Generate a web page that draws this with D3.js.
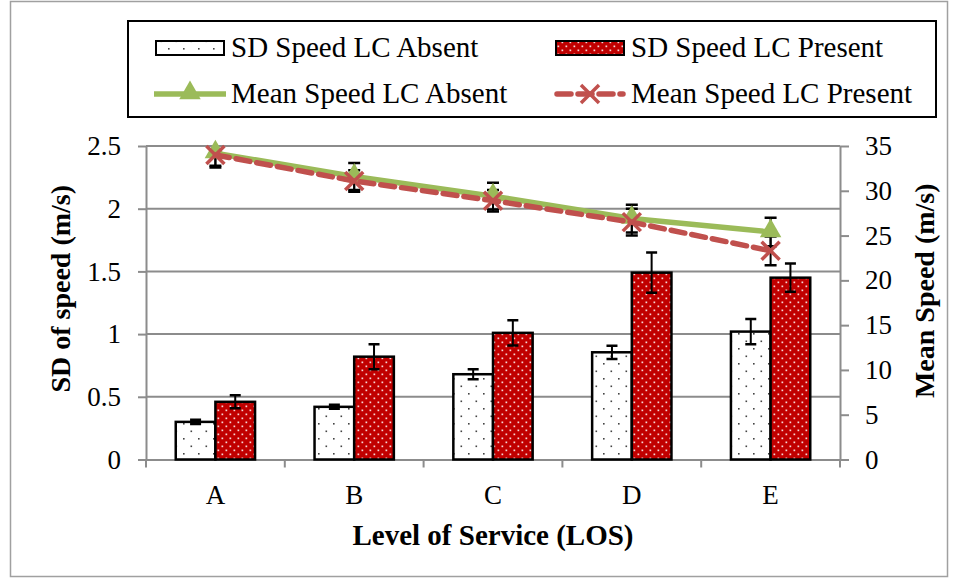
<!DOCTYPE html>
<html>
<head>
<meta charset="utf-8">
<script src="https://cdn.jsdelivr.net/npm/d3@7"></script>
<style>
  html, body { margin: 0; padding: 0; background: #fff; }
  svg { display: block; }
  text { font-family: "Liberation Serif", "Times New Roman", serif; fill: #000; }
</style>
</head>
<body>
<svg id="chart" width="958" height="579"></svg>
<script>
// Level of service categories
const categories = ["A", "B", "C", "D", "E"];

// Standard deviation of speed (m/s), left axis
const sdAbsent = [0.30, 0.42, 0.68, 0.855, 1.02];
const sdAbsentErr = [0.017, 0.016, 0.04, 0.053, 0.10];
const sdPresent = [0.46, 0.82, 1.01, 1.49, 1.45];
const sdPresentErr = [0.052, 0.10, 0.10, 0.16, 0.113];

// Mean speed (m/s), right axis
const meanAbsent = [34.2, 31.6, 29.4, 26.9, 25.4];
const meanAbsentErr = [1.4, 1.5, 1.5, 1.55, 1.6];
const meanPresent = [34.0, 31.1, 28.9, 26.5, 23.3];
const meanPresentErr = [1.4, 1.2, 1.2, 1.5, 1.6];

// Tick labels
const leftTicks = [0, 0.5, 1, 1.5, 2, 2.5];
const rightTicks = [0, 5, 10, 15, 20, 25, 30, 35];

const GREEN = "#9BBB59";
const RED = "#C0504D";
const BAR_RED = "#C00000";
const GRID = "#8C8C8C";

const svg = d3.select("#chart");
const defs = svg.append("defs");

// Sparse dot fill for the "LC Absent" bars
const pA = defs.append("pattern").attr("id", "dotsAbsent")
  .attr("patternUnits", "userSpaceOnUse").attr("width", 15).attr("height", 15);
pA.append("rect").attr("width", 15).attr("height", 15).attr("fill", "#fff");
pA.append("rect").attr("x", 3).attr("y", 3).attr("width", 1.6).attr("height", 1.6).attr("fill", "#444");
pA.append("rect").attr("x", 10.5).attr("y", 10.5).attr("width", 1.6).attr("height", 1.6).attr("fill", "#444");

// Dense white dots on red for the "LC Present" bars
const pP = defs.append("pattern").attr("id", "dotsPresent")
  .attr("patternUnits", "userSpaceOnUse").attr("width", 8).attr("height", 8);
pP.append("rect").attr("width", 8).attr("height", 8).attr("fill", BAR_RED);
pP.append("rect").attr("x", 1.5).attr("y", 1.5).attr("width", 1.7).attr("height", 1.7).attr("fill", "#f6d6d6");
pP.append("rect").attr("x", 5.5).attr("y", 5.5).attr("width", 1.7).attr("height", 1.7).attr("fill", "#f6d6d6");

// Outer chart frame
svg.append("rect").attr("x", 10.5).attr("y", 1.5).attr("width", 937).attr("height", 575)
  .attr("fill", "none").attr("stroke", "#a0a0a0").attr("stroke-width", 1.5);

const plot = { left: 146, right: 840, top: 146, bottom: 459.5 };

// Error bars are clipped to the plot area
defs.append("clipPath").attr("id", "plotClip").append("rect")
  .attr("x", plot.left - 20).attr("y", plot.top).attr("width", plot.right - plot.left + 40)
  .attr("height", plot.bottom - plot.top);

const x = d3.scaleBand().domain(categories).range([plot.left, plot.right]).padding(0);
const xs = d3.scaleBand().domain(["absent", "present"]).range([0, x.bandwidth()])
  .paddingInner(0).paddingOuter(0.75);
const yL = d3.scaleLinear().domain([0, 2.5]).range([plot.bottom, plot.top]);
const yR = d3.scaleLinear().domain([0, 35]).range([plot.bottom, plot.top]);

// Horizontal gridlines
svg.append("g").selectAll("line").data(leftTicks.slice(1)).join("line")
  .attr("x1", plot.left).attr("x2", plot.right)
  .attr("y1", d => yL(d)).attr("y2", d => yL(d))
  .attr("stroke", GRID).attr("stroke-width", 2);

// Axes
function styleAxis(g) {
  g.selectAll("path.domain").attr("stroke", GRID).attr("stroke-width", 2);
  g.selectAll(".tick line").attr("stroke", GRID).attr("stroke-width", 2);
  g.selectAll(".tick text").attr("font-family", "Liberation Serif").attr("font-size", 27).attr("fill", "#000");
}

const axL = svg.append("g").attr("transform", `translate(${plot.left},0)`)
  .call(d3.axisLeft(yL).tickValues(leftTicks).tickSize(8).tickSizeOuter(0).tickPadding(17)
    .tickFormat(d3.format("~g")));
styleAxis(axL);

const axR = svg.append("g").attr("transform", `translate(${plot.right},0)`)
  .call(d3.axisRight(yR).tickValues(rightTicks).tickSize(9).tickSizeOuter(0).tickPadding(16));
styleAxis(axR);

const axB = svg.append("g").attr("transform", `translate(0,${plot.bottom})`)
  .call(d3.axisBottom(x).tickSize(0).tickSizeOuter(0).tickPadding(25));
styleAxis(axB);
// Category boundary ticks
axB.selectAll("line.bound").data(categories.map(c => x(c)).concat([plot.right])).join("line")
  .attr("class", "bound")
  .attr("x1", d => d).attr("x2", d => d).attr("y1", 0).attr("y2", 8)
  .attr("stroke", GRID).attr("stroke-width", 2);

// Bars
const barGroups = [
  { key: "absent", vals: sdAbsent, err: sdAbsentErr, fill: "url(#dotsAbsent)" },
  { key: "present", vals: sdPresent, err: sdPresentErr, fill: "url(#dotsPresent)" }
];
barGroups.forEach(s => {
  svg.append("g").selectAll("rect").data(categories).join("rect")
    .attr("x", c => x(c) + xs(s.key))
    .attr("width", xs.bandwidth())
    .attr("y", (c, i) => yL(s.vals[i]))
    .attr("height", (c, i) => plot.bottom - yL(s.vals[i]))
    .attr("fill", s.fill).attr("stroke", "#000").attr("stroke-width", 2.5);
});

function errorBars(g, cx, cyLow, cyHigh, capW) {
  g.append("line").attr("x1", cx).attr("x2", cx).attr("y1", cyLow).attr("y2", cyHigh)
    .attr("stroke", "#000").attr("stroke-width", 2);
  [cyLow, cyHigh].forEach(yy => g.append("line")
    .attr("x1", cx - capW / 2).attr("x2", cx + capW / 2).attr("y1", yy).attr("y2", yy)
    .attr("stroke", "#000").attr("stroke-width", 2.5));
}

const errG = svg.append("g").attr("clip-path", "url(#plotClip)");
barGroups.forEach(s => {
  categories.forEach((c, i) => {
    const cx = x(c) + xs(s.key) + xs.bandwidth() / 2;
    errorBars(errG, cx, yL(s.vals[i] - s.err[i]), yL(s.vals[i] + s.err[i]), 11);
  });
});

// Mean speed lines
const cx = c => x(c) + x.bandwidth() / 2;
const line = d3.line().x(d => cx(d.c)).y(d => yR(d.v));
const absentPts = categories.map((c, i) => ({ c, v: meanAbsent[i] }));
const presentPts = categories.map((c, i) => ({ c, v: meanPresent[i] }));

const lineErr = svg.append("g").attr("clip-path", "url(#plotClip)");
categories.forEach((c, i) => {
  errorBars(lineErr, cx(c), yR(meanAbsent[i] - meanAbsentErr[i]), yR(meanAbsent[i] + meanAbsentErr[i]), 12);
  errorBars(lineErr, cx(c), yR(meanPresent[i] - meanPresentErr[i]), yR(meanPresent[i] + meanPresentErr[i]), 12);
});

svg.append("path").datum(absentPts).attr("d", line)
  .attr("fill", "none").attr("stroke", GREEN).attr("stroke-width", 5.5);
const triangle = d3.symbol().type(d3.symbolTriangle).size(200);
svg.append("g").selectAll("path").data(absentPts).join("path")
  .attr("d", triangle)
  .attr("transform", d => `translate(${cx(d.c)},${yR(d.v) - 1})`)
  .attr("fill", GREEN);

svg.append("path").datum(presentPts).attr("d", line)
  .attr("fill", "none").attr("stroke", RED).attr("stroke-width", 5.5)
  .attr("stroke-dasharray", "14 7").attr("stroke-linecap", "round");

function drawX(g, px, py, r) {
  g.append("path").attr("d", `M${px - r},${py - r}L${px + r},${py + r}M${px - r},${py + r}L${px + r},${py - r}`)
    .attr("stroke", RED).attr("stroke-width", 3.5).attr("fill", "none");
}
const xMarks = svg.append("g");
presentPts.forEach(d => drawX(xMarks, cx(d.c), yR(d.v), 9));

// Axis titles
svg.append("text").attr("transform", `translate(70,${(plot.top + plot.bottom) / 2 - 14}) rotate(-90)`)
  .attr("text-anchor", "middle").attr("font-size", 28).attr("font-weight", "bold")
  .text("SD of speed (m/s)");
svg.append("text").attr("transform", `translate(934,${(plot.top + plot.bottom) / 2 - 12}) rotate(-90)`)
  .attr("text-anchor", "middle").attr("font-size", 28).attr("font-weight", "bold")
  .text("Mean Speed (m/s)");
svg.append("text").attr("x", (plot.left + plot.right) / 2).attr("y", 545)
  .attr("text-anchor", "middle").attr("font-size", 29).attr("font-weight", "bold")
  .text("Level of Service (LOS)");

// Legend
const lg = svg.append("g");
lg.append("rect").attr("x", 128).attr("y", 21).attr("width", 808).attr("height", 96)
  .attr("fill", "#fff").attr("stroke", "#000").attr("stroke-width", 2);

const legendItems = [
  { label: "SD Speed LC Absent", kind: "barA", x: 156, y: 48 },
  { label: "SD Speed LC Present", kind: "barP", x: 556, y: 48 },
  { label: "Mean Speed LC Absent", kind: "lineA", x: 156, y: 94 },
  { label: "Mean Speed LC Present", kind: "lineP", x: 556, y: 94 }
];
legendItems.forEach(it => {
  if (it.kind === "barA" || it.kind === "barP") {
    lg.append("rect").attr("x", it.x).attr("y", it.y - 7).attr("width", 68).attr("height", 14)
      .attr("fill", it.kind === "barA" ? "url(#dotsAbsent)" : "url(#dotsPresent)")
      .attr("stroke", "#000").attr("stroke-width", 2);
  } else if (it.kind === "lineA") {
    lg.append("line").attr("x1", it.x - 2).attr("x2", it.x + 70).attr("y1", it.y).attr("y2", it.y)
      .attr("stroke", GREEN).attr("stroke-width", 5.5);
    lg.append("path").attr("d", triangle).attr("transform", `translate(${it.x + 34},${it.y - 1})`)
      .attr("fill", GREEN);
  } else {
    lg.append("line").attr("x1", it.x + 1).attr("x2", it.x + 67).attr("y1", it.y).attr("y2", it.y)
      .attr("stroke", RED).attr("stroke-width", 5.5)
      .attr("stroke-dasharray", "14 7").attr("stroke-linecap", "round");
    drawX(lg, it.x + 34, it.y, 9);
  }
  lg.append("text").attr("x", it.x + 75).attr("y", it.y + 9)
    .attr("font-size", 29).text(it.label);
});
</script>
</body>
</html>
